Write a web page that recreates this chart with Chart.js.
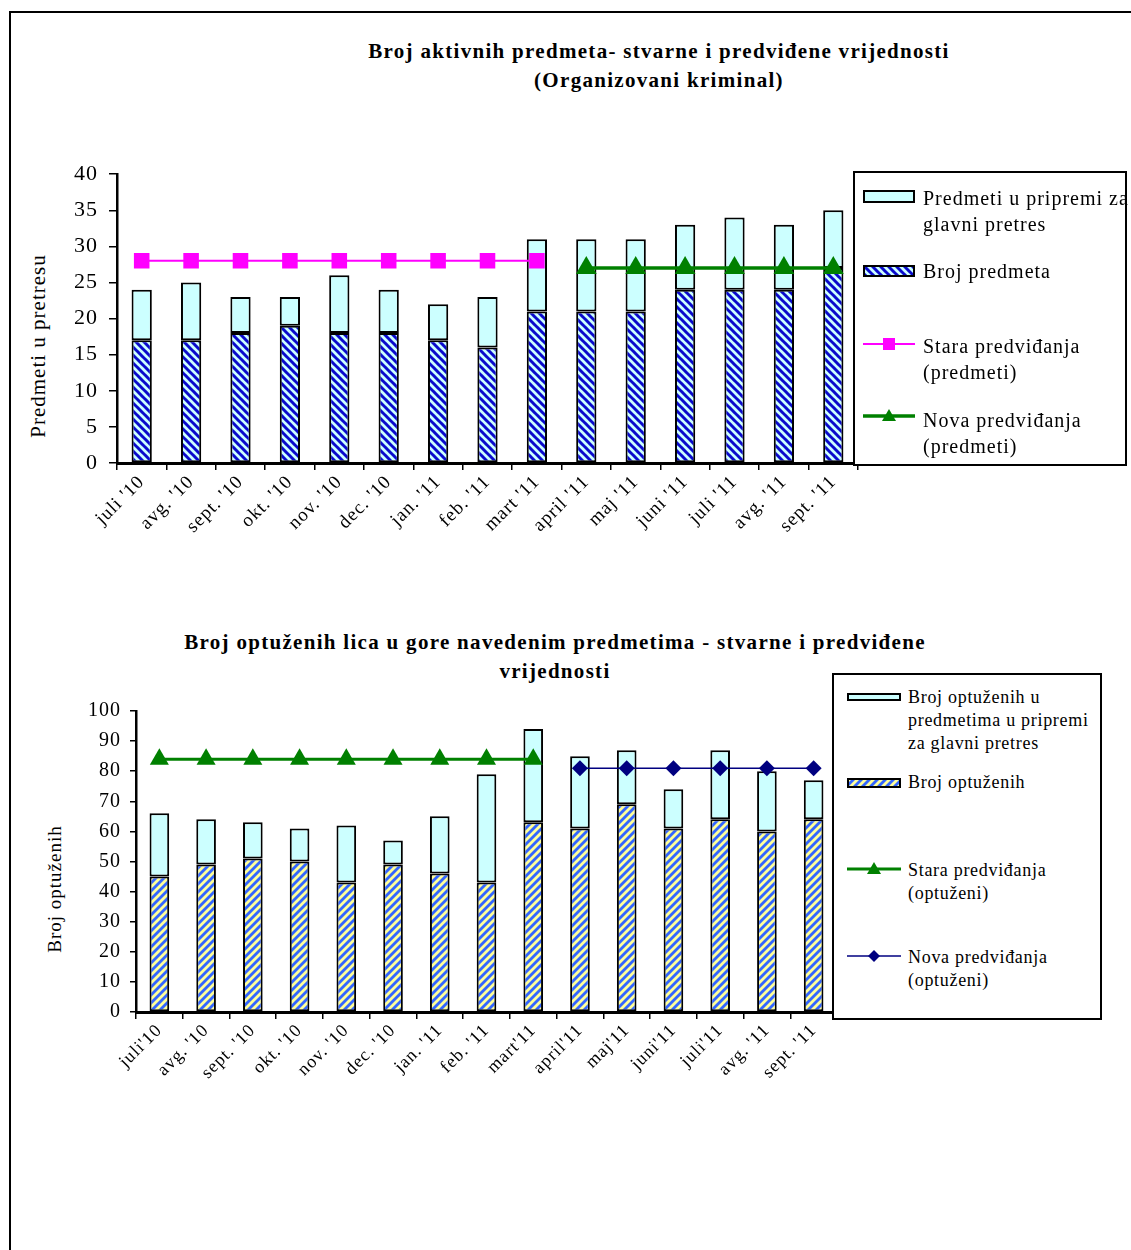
<!DOCTYPE html>
<html>
<head>
<meta charset="utf-8">
<script src="https://cdn.jsdelivr.net/npm/chart.js@4.4.1/dist/chart.umd.min.js"></script>
<style>
body{margin:0;background:#fff;font-family:'Liberation Serif','Times New Roman',serif;color:#000;}
#page{position:relative;width:1131px;height:1250px;overflow:hidden;}
#frame{position:absolute;left:9px;top:11px;width:1200px;height:1300px;border:2px solid #000;}
.t{position:absolute;white-space:nowrap;}
.title{font-weight:bold;font-size:21px;letter-spacing:1.3px;line-height:29px;text-align:center;transform:translateX(-50%);}
.ytitle{transform:translate(-50%,-50%) rotate(-90deg);}
.legend{position:absolute;border:2px solid #000;background:#fff;box-sizing:border-box;}
canvas{position:absolute;}
</style>
</head>
<body>
<div id="page">
  <div id="frame"></div>
  <div class="t title" style="left:659px;top:37px;">Broj aktivnih predmeta- stvarne i predviđene vrijednosti<br>(Organizovani kriminal)</div>
  <div class="t ytitle" style="left:38px;top:346px;font-size:21px;letter-spacing:1px;">Predmeti u pretresu</div>
  <canvas id="c1" width="870" height="400" style="left:0;top:150px;"></canvas>
  <div class="legend" id="leg1" style="left:853px;top:171px;width:274px;height:295px;"></div>

  <div class="t title" style="left:555px;top:628px;">Broj optuženih lica u gore navedenim predmetima - stvarne i predviđene<br>vrijednosti</div>
  <div class="t ytitle" style="left:55px;top:889px;font-size:19px;letter-spacing:1px;">Broj optuženih</div>
  <canvas id="c2" width="848" height="400" style="left:0;top:690px;"></canvas>
  <div class="legend" id="leg2" style="left:832px;top:673px;width:270px;height:347px;"></div>
</div>
<script>
// data
const months1 = ["juli '10", "avg. '10", "sept. '10", "okt. '10", "nov. '10", "dec. '10", "jan. '11", "feb. '11", "mart '11", "april '11", "maj '11", "juni '11", "juli '11", "avg. '11", "sept. '11"];
const brojPredmeta = [17, 17, 18, 19, 18, 18, 17, 16, 21, 21, 21, 24, 24, 24, 27];
const predmetiPriprema = [7, 8, 5, 4, 8, 6, 5, 7, 10, 10, 10, 9, 10, 9, 8];
const staraPredmeti = [28, 28, 28, 28, 28, 28, 28, 28, 28, null, null, null, null, null, null];
const novaPredmeti = [null, null, null, null, null, null, null, null, null, 27, 27, 27, 27, 27, 27];
const yTicks1 = [0, 5, 10, 15, 20, 25, 30, 35, 40];

const months2 = ["juli'10", "avg. '10", "sept. '10", "okt. '10", "nov. '10", "dec. '10", "jan. '11", "feb. '11", "mart'11", "april'11", "maj'11", "juni'11", "juli'11", "avg. '11", "sept. '11"];
const brojOptuzenih = [45, 49, 51, 50, 43, 49, 46, 43, 63, 61, 69, 61, 64, 60, 64];
const optuzeniPriprema = [21, 15, 12, 11, 19, 8, 19, 36, 31, 24, 18, 13, 23, 20, 13];
const staraOptuzeni = [84, 84, 84, 84, 84, 84, 84, 84, 84, null, null, null, null, null, null];
const novaOptuzeni = [null, null, null, null, null, null, null, null, null, 81, 81, 81, 81, 81, 81];
const yTicks2 = [0, 10, 20, 30, 40, 50, 60, 70, 80, 90, 100];

const FONT = "'Liberation Serif', 'Times New Roman', serif";
const CYAN = '#CCFFFF';

function stripes(ctx, bg, fg, dir, size, w) {
    const c = document.createElement('canvas');
    c.width = c.height = size;
    const x = c.getContext('2d');
    x.fillStyle = bg;
    x.fillRect(0, 0, size, size);
    x.strokeStyle = fg;
    x.lineWidth = w;
    for (let o = -size; o <= size; o += size) {
        x.beginPath();
        if (dir == '\\') { x.moveTo(o - 1, -1); x.lineTo(o + size + 1, size + 1); }
        else { x.moveTo(o - 1, size + 1); x.lineTo(o + size + 1, -1); }
        x.stroke();
    }
    return ctx.createPattern(c, 'repeat');
}

// wider text like the original (Word stretches the serif font)
const spacing = {
    id: 'spacing',
    beforeDraw: function(chart) { chart.ctx.letterSpacing = '1px'; }
};

function drawChart(id, labels, base, upper, lines, o) {
    const ctx = document.getElementById(id).getContext('2d');
    const datasets = [
        { label: base.label, data: base.data, backgroundColor: base.fill, borderColor: '#000', borderWidth: 2,
          borderSkipped: false, barPercentage: o.bar, categoryPercentage: 1, stack: 'bars', order: 1 },
        { label: upper.label, data: upper.data, backgroundColor: CYAN, borderColor: '#000', borderWidth: 2,
          borderSkipped: false, barPercentage: o.bar, categoryPercentage: 1, stack: 'bars', order: 1 }
    ];
    lines.forEach(function(l, i) {
        datasets.push({ type: 'line', label: l.label, data: l.data, borderColor: l.color, backgroundColor: l.color,
            borderWidth: l.width, pointStyle: l.point, pointRadius: l.radius, pointBorderWidth: 0,
            stack: 'line' + i, order: 0, spanGaps: false });
    });
    return new Chart(ctx, {
        type: 'bar',
        data: { labels: labels, datasets: datasets },
        plugins: [spacing],
        options: {
            responsive: false,
            animation: false,
            layout: { padding: { top: o.top, right: o.right, left: 0, bottom: 0 } },
            plugins: { legend: { display: false }, tooltip: { enabled: false } },
            scales: {
                x: {
                    stacked: true,
                    grid: { drawOnChartArea: false, offset: true, tickLength: 7, color: '#000', lineWidth: 1.5 },
                    border: { color: '#000', width: 3 },
                    ticks: { autoSkip: false, minRotation: 45, maxRotation: 45, padding: 1, color: '#000',
                             font: { family: FONT, size: o.xFont } },
                    afterFit: function(s) { s.height = o.xh; }
                },
                y: {
                    stacked: true, min: 0, max: o.ticks[o.ticks.length - 1],
                    afterBuildTicks: function(s) { s.ticks = o.ticks.map(v => ({ value: v })); },
                    grid: { drawOnChartArea: false, tickLength: o.tickLen, color: '#000', lineWidth: 1.5 },
                    border: { color: '#000', width: 2.5 },
                    ticks: { padding: o.pad, color: '#000', font: { family: FONT, size: o.yFont } },
                    afterFit: function(s) { s.width = o.yw; }
                }
            }
        }
    });
}

const ctx1 = document.getElementById('c1').getContext('2d');
const ctx2 = document.getElementById('c2').getContext('2d');
const hatchBlue = stripes(ctx1, CYAN, '#0A0ACC', '\\', 8, 3);
const hatchYellow = stripes(ctx2, '#FFFF99', '#3366FF', '/', 8, 2.8);

drawChart('c1', months1,
    { label: 'Broj predmeta', data: brojPredmeta, fill: hatchBlue },
    { label: 'Predmeti u pripremi za glavni pretres', data: predmetiPriprema },
    [ { label: 'Stara predviđanja (predmeti)', data: staraPredmeti, color: '#FF00FF', width: 2, point: 'rect', radius: 11 },
      { label: 'Nova predviđanja (predmeti)', data: novaPredmeti, color: '#008000', width: 3.5, point: 'triangle', radius: 12 } ],
    { bar: 0.41, top: 18, right: 5, xh: 87, yw: 117, tickLen: 8, pad: 11, xFont: 19, yFont: 22, ticks: yTicks1 });

drawChart('c2', months2,
    { label: 'Broj optuženih', data: brojOptuzenih, fill: hatchYellow },
    { label: 'Broj optuženih u predmetima u pripremi za glavni pretres', data: optuzeniPriprema },
    [ { label: 'Stara predviđanja (optuženi)', data: staraOptuzeni, color: '#008000', width: 3, point: 'triangle', radius: 11 },
      { label: 'Nova predviđanja (optuženi)', data: novaOptuzeni, color: '#000080', width: 1.5, point: 'rectRot', radius: 8 } ],
    { bar: 0.42, top: 12, right: 8, xh: 78, yw: 136, tickLen: 6, pad: 9, xFont: 18, yFont: 20, ticks: yTicks2 });

// legends
function swatch(box, left, top, w, h, fill) {
    const c = document.createElement('canvas');
    c.width = w; c.height = h;
    c.style.left = left + 'px'; c.style.top = top + 'px';
    const x = c.getContext('2d');
    x.fillStyle = fill === 'blue' ? stripes(x, CYAN, '#0A0ACC', '\\', 8, 3) :
                  fill === 'yellow' ? stripes(x, '#FFFF99', '#3366FF', '/', 8, 2.8) : CYAN;
    x.fillRect(0, 0, w, h);
    x.strokeStyle = '#000'; x.lineWidth = 2;
    x.strokeRect(1, 1, w - 2, h - 2);
    box.appendChild(c);
}
function lineSwatch(box, left, cy, w, color, lw, point, r) {
    const c = document.createElement('canvas');
    c.width = w; c.height = 24;
    c.style.left = left + 'px'; c.style.top = (cy - 12) + 'px';
    const x = c.getContext('2d');
    x.strokeStyle = color; x.fillStyle = color; x.lineWidth = lw;
    x.beginPath(); x.moveTo(0, 12); x.lineTo(w, 12); x.stroke();
    const m = w / 2;
    x.beginPath();
    if (point == 'rect') x.rect(m - r, 12 - r, 2 * r, 2 * r);
    if (point == 'triangle') { x.moveTo(m, 12 - r); x.lineTo(m + r, 12 + r * 0.7); x.lineTo(m - r, 12 + r * 0.7); }
    if (point == 'rectRot') { x.moveTo(m, 12 - r); x.lineTo(m + r, 12); x.lineTo(m, 12 + r); x.lineTo(m - r, 12); }
    x.closePath(); x.fill();
    box.appendChild(c);
}
function text(box, left, top, size, lh, ls, html) {
    const d = document.createElement('div');
    d.className = 't';
    d.style.left = left + 'px'; d.style.top = top + 'px';
    d.style.fontSize = size + 'px'; d.style.lineHeight = lh + 'px';
    d.style.letterSpacing = ls + 'px';
    d.innerHTML = html;
    box.appendChild(d);
}

const leg1 = document.getElementById('leg1');
swatch(leg1, 8, 17, 52, 13, 'cyan');
text(leg1, 68, 12, 20, 26, 1, 'Predmeti u pripremi za<br>glavni pretres');
swatch(leg1, 8, 92, 52, 12, 'blue');
text(leg1, 68, 85, 20, 26, 1, 'Broj predmeta');
lineSwatch(leg1, 8, 171, 52, '#FF00FF', 2, 'rect', 6);
text(leg1, 68, 160, 20, 26, 1, 'Stara predviđanja<br>(predmeti)');
lineSwatch(leg1, 8, 243, 52, '#008000', 3.5, 'triangle', 7);
text(leg1, 68, 234, 20, 26, 1, 'Nova predviđanja<br>(predmeti)');

const leg2 = document.getElementById('leg2');
swatch(leg2, 13, 18, 54, 8, 'cyan');
text(leg2, 74, 11, 18, 23, 0.7, 'Broj optuženih u<br>predmetima u pripremi<br>za glavni pretres');
swatch(leg2, 13, 103, 54, 10, 'yellow');
text(leg2, 74, 96, 18, 23, 0.7, 'Broj optuženih');
lineSwatch(leg2, 13, 194, 54, '#008000', 3, 'triangle', 7);
text(leg2, 74, 184, 18, 23, 0.7, 'Stara predviđanja<br>(optuženi)');
lineSwatch(leg2, 13, 281, 54, '#000080', 1.5, 'rectRot', 6);
text(leg2, 74, 271, 18, 23, 0.7, 'Nova predviđanja<br>(optuženi)');
</script>
</body>
</html>
